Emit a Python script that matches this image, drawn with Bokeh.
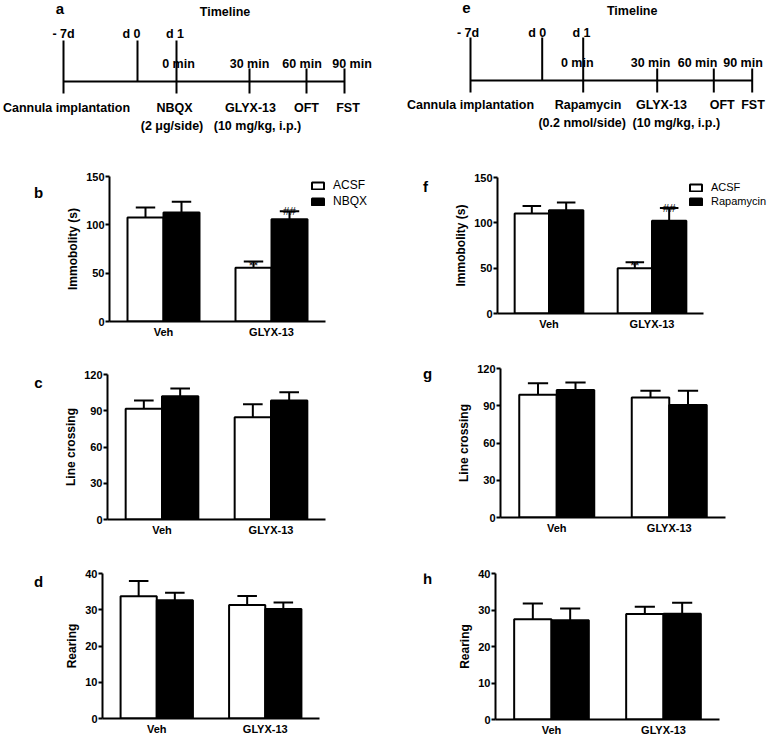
from bokeh.plotting import figure
from bokeh.models import (Range1d, Legend, LegendItem, ColumnDataSource, FixedTicker)
from bokeh.transform import dodge
from bokeh.layouts import column, row
from bokeh.core.properties import value
from bokeh.embed import file_html
from bokeh.resources import INLINE

FONT = "Liberation Sans"

# ---------------- data ----------------
groups = ["Veh", "GLYX-13"]

# panel b (NBQX, immobility)
b_acsf = [107.6, 55.5]
b_acsf_err = [10.3, 6.5]
b_drug = [112.7, 105.8]
b_drug_err = [11.3, 8.2]
b_sig_acsf = ["", "**"]
b_sig_drug = ["", "##"]

# panel c (NBQX, line crossing)
c_acsf = [91.6, 84.7]
c_acsf_err = [6.9, 10.7]
c_drug = [102.0, 98.5]
c_drug_err = [6.4, 6.9]

# panel d (NBQX, rearing)
d_acsf = [33.7, 31.3]
d_acsf_err = [4.2, 2.5]
d_drug = [32.6, 30.2]
d_drug_err = [2.1, 1.8]

# panel f (Rapamycin, immobility)
f_acsf = [110.3, 49.9]
f_acsf_err = [8.2, 6.6]
f_drug = [114.0, 102.3]
f_drug_err = [8.5, 14.0]
f_sig_acsf = ["", "**"]
f_sig_drug = ["", "##"]

# panel g (Rapamycin, line crossing)
g_acsf = [98.8, 96.6]
g_acsf_err = [9.4, 5.4]
g_drug = [102.6, 90.7]
g_drug_err = [6.1, 11.3]

# panel h (Rapamycin, rearing)
h_acsf = [27.5, 28.9]
h_acsf_err = [4.3, 2.0]
h_drug = [27.2, 29.0]
h_drug_err = [3.2, 3.0]

ticks_imm = [0, 50, 100, 150]
ticks_line = [0, 30, 60, 90, 120]
ticks_rear = [0, 10, 20, 30, 40]

# timeline texts
tl_day_labels = ["- 7d", "d 0", "d 1"]
tl_min_labels = ["0 min", "30 min", "60 min", "90 min"]
a_events = ["Cannula implantation", "NBQX", "GLYX-13", "OFT", "FST"]
a_doses = ["(2 \u03bcg/side)", "(10 mg/kg, i.p.)"]
e_events = ["Cannula implantation", "Rapamycin", "GLYX-13", "OFT", "FST"]
e_doses = ["(0.2 nmol/side)", "(10 mg/kg, i.p.)"]


def blank(W, H):
    p = figure(width=W, height=H, x_range=Range1d(0, W), y_range=Range1d(H, 0),
               output_backend="svg", toolbar_location=None, min_border=0,
               x_axis_type=None, y_axis_type=None)
    p.outline_line_color = None
    p.grid.visible = False
    return p


TXT = dict(text_font=value(FONT), text_font_style="bold", text_color="black",
           text_align="center", text_baseline="middle")


def timeline(W, H, letter, letter_xy, title_xy, tick_x, yline, ytop, ybot,
             day_x, day_y, min_x, min_y, ev_x, ev_y, dose_x, dose_y, events, doses):
    p = blank(W, H)
    p.segment(x0=[tick_x[0]], y0=[yline], x1=[tick_x[-1]], y1=[yline],
              line_color="black", line_width=2)
    y0s = [ytop, ytop, ytop, 68, 68, 68]
    y1s = [ybot, yline, ybot, ybot, ybot, ybot]
    p.segment(x0=tick_x, y0=y0s, x1=tick_x, y1=y1s, line_color="black", line_width=2)
    fs = "12.5px"
    p.text(x=[letter_xy[0]], y=[letter_xy[1]], text=[letter], text_font_size="15px", **TXT)
    p.text(x=[title_xy[0]], y=[title_xy[1]], text=["Timeline"], text_font_size=fs, **TXT)
    p.text(x=day_x, y=[day_y] * 3, text=tl_day_labels, text_font_size=fs, **TXT)
    p.text(x=min_x, y=[min_y] * 4, text=tl_min_labels, text_font_size=fs, **TXT)
    p.text(x=ev_x, y=[ev_y] * 5, text=events, text_font_size=fs, **TXT)
    p.text(x=dose_x, y=[dose_y] * 2, text=doses, text_font_size=fs, **TXT)
    return p


def strip(W, H, letter, lx, ly):
    p = blank(W, H)
    p.text(x=[lx], y=[ly], text=[letter], text_font_size="15px", **TXT)
    return p


def bar_panel(W, H, L, T, B, xmax, ymax, yticks, ylabel, acsf, acsf_err, drug, drug_err,
              legend=None, sig=None):
    p = figure(width=W, height=H, x_range=Range1d(0, xmax), y_range=Range1d(0, ymax),
               output_backend="svg", toolbar_location=None,
               min_border_left=L, min_border_right=0, min_border_top=T,
               min_border_bottom=B)
    p.outline_line_color = None
    p.xgrid.visible = False
    p.ygrid.visible = False
    gx = [i + 0.5 for i in range(len(groups))]
    data = dict(gx=gx, acsf=acsf, drug=drug,
                acsf_top=[a + e for a, e in zip(acsf, acsf_err)],
                drug_top=[a + e for a, e in zip(drug, drug_err)])
    if sig is not None:
        data["sig_a"] = sig[0]
        data["sig_d"] = sig[1]
    src = ColumnDataSource(data)
    bw = 1 / 3
    cap = 0.09
    r1 = p.vbar(x=dodge("gx", -bw / 2), top="acsf", width=bw, source=src,
                fill_color="white", line_color="black", line_width=2)
    r2 = p.vbar(x=dodge("gx", bw / 2), top="drug", width=bw, source=src,
                fill_color="black", line_color="black", line_width=2)
    for off, lo, hi in ((-bw / 2, "acsf", "acsf_top"), (bw / 2, "drug", "drug_top")):
        p.segment(x0=dodge("gx", off), y0=lo, x1=dodge("gx", off), y1=hi,
                  source=src, line_color="black", line_width=2)
        p.segment(x0=dodge("gx", off - cap), y0=hi, x1=dodge("gx", off + cap), y1=hi,
                  source=src, line_color="black", line_width=2)
    if sig is not None:
        p.text(x=dodge("gx", -bw / 2), y="acsf_top", text="sig_a", source=src,
               text_font=value(FONT), text_font_size="12px", text_align="center",
               text_baseline="alphabetic", y_offset=4, text_color="black")
        p.text(x=dodge("gx", bw / 2), y="drug_top", text="sig_d", source=src,
               text_font=value(FONT), text_font_size="11.5px", text_align="center",
               text_baseline="alphabetic", y_offset=0, text_color="black")
    ya = p.yaxis[0]
    ya.ticker = FixedTicker(ticks=yticks)
    ya.minor_tick_line_color = None
    ya.major_tick_in = 0
    ya.major_tick_out = 4
    ya.major_tick_line_width = 2
    ya.axis_line_width = 2
    ya.major_label_standoff = 1
    ya.major_label_text_font = FONT
    ya.major_label_text_font_size = "11px"
    ya.major_label_text_font_style = "bold"
    ya.major_label_text_color = "black"
    ya.axis_label = ylabel
    ya.axis_label_text_font = FONT
    ya.axis_label_text_font_size = "12px"
    ya.axis_label_text_font_style = "bold"
    ya.axis_label_text_color = "black"
    ya.axis_label_standoff = 3
    xa = p.xaxis[0]
    xa.ticker = FixedTicker(ticks=gx)
    xa.major_label_overrides = {x: g for x, g in zip(gx, groups)}
    xa.bounds = (0, len(groups))
    xa.minor_tick_line_color = None
    xa.major_tick_line_color = None
    xa.major_tick_out = 0
    xa.major_tick_in = 0
    xa.axis_line_width = 2
    xa.major_label_standoff = 4
    xa.major_label_text_font = FONT
    xa.major_label_text_font_size = "11px"
    xa.major_label_text_font_style = "bold"
    xa.major_label_text_color = "black"
    if legend is not None:
        name, lx, ly, fs = legend
        leg = Legend(items=[LegendItem(label="ACSF", renderers=[r1]),
                            LegendItem(label=name, renderers=[r2])],
                     location=(lx, ly), orientation="vertical",
                     border_line_color=None, background_fill_alpha=0,
                     padding=0, margin=0, spacing=2, glyph_width=15, glyph_height=9,
                     label_standoff=8, label_height=9,
                     label_text_font=FONT, label_text_font_size=fs,
                     label_text_color="black")
        p.add_layout(leg)
    return p


# ---------- left column ----------
ta = timeline(385, 134, "a", (59.5, 7.5), (224.5, 11.5),
              [63, 137, 176, 249, 306, 344], 81, 40, 93,
              [63, 131, 174.5], 33, [178, 249, 301.5, 351.5], 63,
              [66, 174, 250, 306, 347.5], 107, [171.5, 257], 125, a_events, a_doses)

sb = strip(50, 211, "b", 38, 23)
pb = bar_panel(335, 211, 59, 42, 24, 2 * 276 / 216, 150, ticks_imm, "Immobolity (s)",
               b_acsf, b_acsf_err, b_drug, b_drug_err,
               legend=("NBQX", 201, 113, "12px"), sig=(b_sig_acsf, b_sig_drug))
sc = strip(50, 200, "c", 38, 11)
pc = bar_panel(335, 200, 57, 29, 26, 2 * 278 / 218, 120, ticks_line, "Line crossing",
               c_acsf, c_acsf_err, c_drug, c_drug_err)
sd = strip(50, 193, "d", 38, 10)
pd = bar_panel(335, 193, 52, 28, 20, 2 * 283 / 217, 40, ticks_rear, "Rearing",
               d_acsf, d_acsf_err, d_drug, d_drug_err)

# ---------- right column ----------
te = timeline(386, 134, "e", (81, 7), (246.7, 10.7),
              [85, 156.7, 197.7, 271.7, 328.3, 366.7], 80, 37, 92,
              [82.5, 151.7, 196], 32.5, [191.7, 265, 312, 357.5], 62.5,
              [85, 202.5, 276, 336.7, 367.5], 104, [196.7, 290.8], 122, e_events, e_doses)

sf = strip(60, 206, "f", 40, 14)
pf = bar_panel(326, 206, 52, 43, 27, 2 * 274 / 206, 150, ticks_imm, "Immobolity (s)",
               f_acsf, f_acsf_err, f_drug, f_drug_err,
               legend=("Rapamycin", 191, 106, "11px"), sig=(f_sig_acsf, f_sig_drug))
sg = strip(60, 205, "g", 42, 7)
pg = bar_panel(326, 205, 55, 28, 28, 2 * 271 / 225, 120, ticks_line, "Line crossing",
               g_acsf, g_acsf_err, g_drug, g_drug_err)
sh = strip(60, 193, "h", 42, 7)
ph = bar_panel(326, 193, 50, 28, 16, 2 * 276 / 224, 40, ticks_rear, "Rearing",
               h_acsf, h_acsf_err, h_drug, h_drug_err)

left = column(ta, row(sb, pb), row(sc, pc), row(sd, pd))
right = column(te, row(sf, pf), row(sg, pg), row(sh, ph))
layout = row(left, right)

with open("out.html", "w") as fh_:
    fh_.write(file_html(layout, INLINE))
